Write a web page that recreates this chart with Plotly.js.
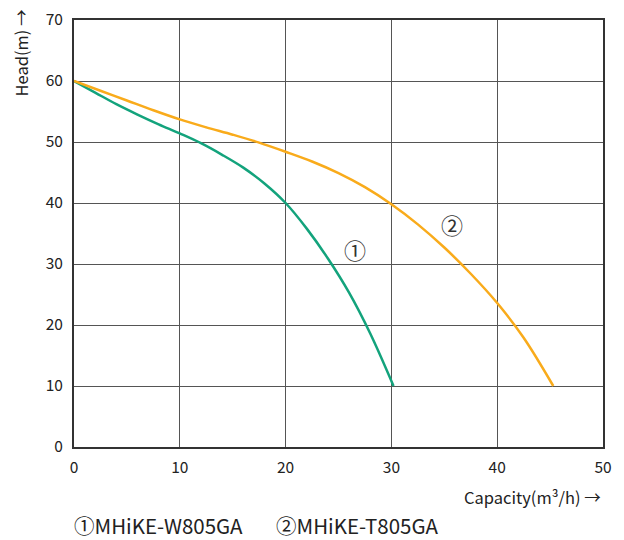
<!DOCTYPE html>
<html><head><meta charset="utf-8">
<script src="https://cdn.plot.ly/plotly-3.0.1.min.js"></script>
<style>html,body{margin:0;padding:0;background:#fff}</style>
</head><body>
<div id="chart" style="width:624px;height:540px"></div>
<script>
const w805Capacity = [0, 2, 4, 6, 8, 10, 12, 14, 16, 18, 20, 22, 24, 26, 28, 30.2];
const w805Head =     [60, 58.1, 56.2, 54.5, 52.9, 51.4, 49.8, 47.9, 45.8, 43.2, 40, 35.8, 30.9, 25.3, 18.6, 10];
const t805Capacity = [0, 2.5, 5, 7.5, 10, 12.5, 15, 17.5, 20, 22.5, 25, 27.5, 30, 32.5, 35, 37.5, 40, 42.5, 45.3];
const t805Head =     [60, 58.4, 56.8, 55.2, 53.7, 52.4, 51.2, 49.9, 48.4, 46.8, 44.9, 42.6, 39.8, 36.5, 32.7, 28.4, 23.6, 17.9, 10];
const seriesNames = ['MHiKE-W805GA', 'MHiKE-T805GA'];
const seriesMarks = ['①', '②'];
const xTicks = [0, 10, 20, 30, 40, 50];
const yTicks = [0, 10, 20, 30, 40, 50, 60, 70];

const font = '"Noto Sans CJK KR", "Noto Sans", sans-serif';
const traces = [
  {x: w805Capacity, y: w805Head, mode: 'lines', name: seriesNames[0],
   line: {color: '#13a37c', width: 2.5, shape: 'spline', smoothing: 1}},
  {x: t805Capacity, y: t805Head, mode: 'lines', name: seriesNames[1],
   line: {color: '#f9ab1b', width: 2.5, shape: 'spline', smoothing: 1}}
];
const layout = {
  width: 624, height: 540,
  margin: {l: 74, r: 21, t: 20, b: 93},
  paper_bgcolor: '#fff', plot_bgcolor: '#fff',
  showlegend: false,
  font: {family: font, size: 15, color: '#222'},
  xaxis: {range: [0, 50], tickvals: xTicks, ticks: '', showgrid: true, gridcolor: '#555', gridwidth: 1,
    zeroline: false, showline: true, linecolor: '#333', linewidth: 2, mirror: true, ticklabelstandoff: 5,
    tickfont: {family: font, size: 15.5, color: '#222'}, fixedrange: true},
  yaxis: {range: [0, 70], tickvals: yTicks, ticks: '', showgrid: true, gridcolor: '#555', gridwidth: 1,
    zeroline: false, showline: true, linecolor: '#333', linewidth: 2, mirror: true, ticklabelstandoff: 6,
    tickfont: {family: font, size: 15.5, color: '#222'}, fixedrange: true},
  annotations: [
    {x: 26.6, y: 32.4, xref: 'x', yref: 'y', text: seriesMarks[0], showarrow: false, font: {family: font, size: 22, color: '#333'}},
    {x: 35.7, y: 36.5, xref: 'x', yref: 'y', text: seriesMarks[1], showarrow: false, font: {family: font, size: 22, color: '#333'}},
    {x: 1, y: 0, xref: 'paper', yref: 'paper', xanchor: 'right', yanchor: 'middle', xshift: 0, yshift: -50,
     text: 'Capacity(m³/h) →', showarrow: false, font: {family: font, size: 16.5, color: '#222'}},
    {x: 0, y: 1, xref: 'paper', yref: 'paper', xanchor: 'center', yanchor: 'top', xshift: -54, yshift: 12, textangle: -90,
     text: 'Head(m) →', showarrow: false, font: {family: font, size: 16.5, color: '#222'}},
    {x: 0, y: 0, xref: 'paper', yref: 'paper', xanchor: 'left', yanchor: 'middle', xshift: -2, yshift: -78,
     text: seriesMarks[0] + seriesNames[0], showarrow: false, font: {family: font, size: 20.5, color: '#222'}},
    {x: 0, y: 0, xref: 'paper', yref: 'paper', xanchor: 'left', yanchor: 'middle', xshift: 200, yshift: -78,
     text: seriesMarks[1] + seriesNames[1], showarrow: false, font: {family: font, size: 20.5, color: '#222'}}
  ]
};
Plotly.newPlot('chart', traces, layout, {displayModeBar: false, staticPlot: true});
</script>
</body></html>
